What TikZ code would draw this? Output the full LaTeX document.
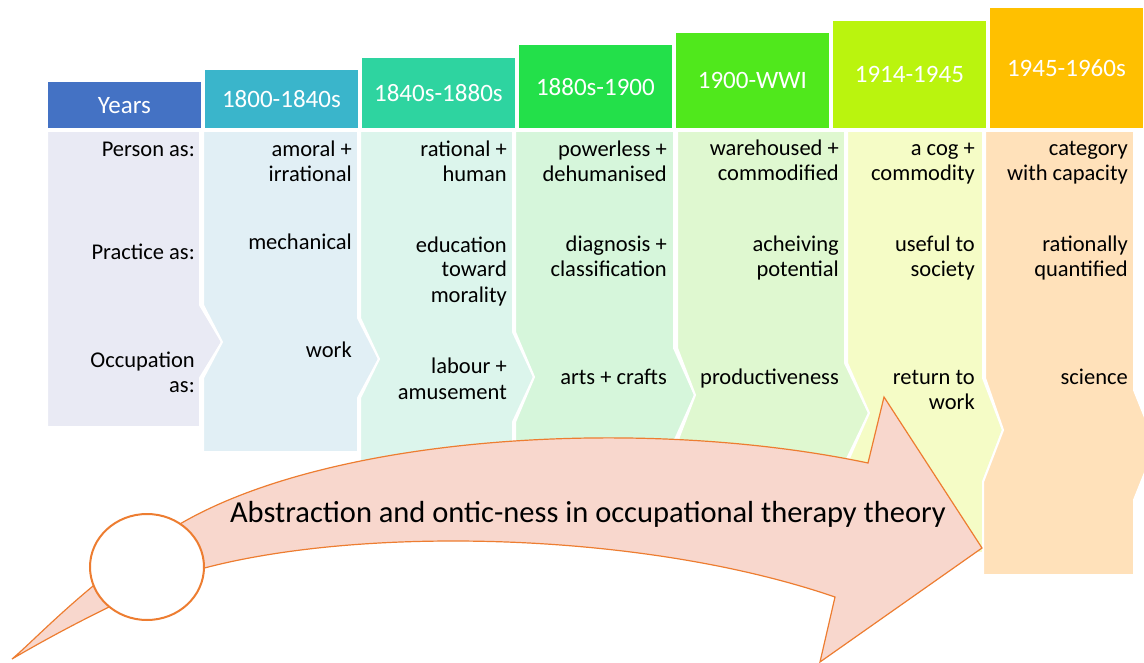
\documentclass[tikz,border=0pt]{standalone}
\usepackage{fontspec}
\setmainfont{Carlito}
\usetikzlibrary{positioning,shapes.geometric}

\definecolor{hdr0}{HTML}{4472C4}
\definecolor{hdr1}{HTML}{3AB5CB}
\definecolor{hdr2}{HTML}{2ED4A0}
\definecolor{hdr3}{HTML}{23E04A}
\definecolor{hdr4}{HTML}{50E81C}
\definecolor{hdr5}{HTML}{BAF40E}
\definecolor{hdr6}{HTML}{FFC000}
\definecolor{body0}{HTML}{E9EAF4}
\definecolor{body1}{HTML}{E1EFF5}
\definecolor{body2}{HTML}{DCF5EC}
\definecolor{body3}{HTML}{D6F6DB}
\definecolor{body4}{HTML}{DFF8D0}
\definecolor{body5}{HTML}{F5FCC6}
\definecolor{body6}{HTML}{FFE1BA}
\definecolor{arrowfill}{HTML}{F8D7CD}
\definecolor{arrowline}{HTML}{ED7D31}

\begin{document}
\begin{tikzpicture}[x=1pt, y=-1pt,
    hdr/.style={anchor=south west, minimum width=154pt, inner sep=0pt,
      draw=white, line width=0.8pt, text=white, font=\fontsize{25}{28}\selectfont},
    panel/.style={draw=white, line width=2pt},
    cell/.style={anchor=base east, align=right, inner sep=0pt,
      font=\fontsize{22.5}{25}\selectfont}]
  \useasboundingbox (0,0) rectangle (1144,663);

  % chevron columns
  \fill[panel, fill=body0] (47,131) -- (200,131) -- (200,305) -- (222,342) -- (200,378) -- (200,427) -- (47,427) -- cycle;
  \fill[panel, fill=body1] (203,131) -- (358,131) -- (358,318) -- (379,359) -- (358,398) -- (358,452) -- (203,452) -- (203,378) -- (222,342) -- (203,305) -- cycle;
  \fill[panel, fill=body2] (360,131) -- (513,131) -- (513,332) -- (534,377) -- (513,422) -- (513,476) -- (360,476) -- (360,398) -- (379,359) -- (360,318) -- cycle;
  \fill[panel, fill=body3] (515,131) -- (674,131) -- (674,348) -- (695,395) -- (674,442) -- (674,500) -- (515,500) -- (515,422) -- (534,377) -- (515,332) -- cycle;
  \fill[panel, fill=body4] (677,131) -- (845,131) -- (845,363) -- (869,413) -- (845,463) -- (845,525) -- (677,525) -- (677,442) -- (695,395) -- (677,348) -- cycle;
  \fill[panel, fill=body5] (847,131) -- (983,131) -- (983,378) -- (1003,430) -- (983,482) -- (983,553) -- (847,553) -- (847,463) -- (869,413) -- (847,363) -- cycle;
  \fill[panel, fill=body6] (985,131) -- (1134,131) -- (1134,390) -- (1156,445) -- (1134,500) -- (1134,575) -- (983,575) -- (983,482) -- (1003,430) -- (985,378) -- cycle;

  % period headers
  \foreach \x/\h/\t [count=\i from 0] in {47/47/Years, 204/59/1800-1840s,
      361/71/1840s-1880s, 518/84/1880s-1900, 675/96/1900-WWI,
      832/108/1914-1945, 989/121/1945-1960s}
    \node[hdr, fill=hdr\i, minimum height=\h pt] (hdr\i) at (\x,129) {\t};

  % row entries (y = baseline of last line)
  \foreach \x/\y/\t [count=\i] in {
      195/157/Person as:, 195/260/Practice as:, 195/392/Occupation\\as:,
      352/182/amoral +\\irrational, 352/250/mechanical, 352/357/work,
      507/182/rational +\\human, 507/302/education\\toward\\morality, 507/399/labour +\\amusement,
      667/182/powerless +\\dehumanised, 667/277/diagnosis +\\classification, 667/384/arts + crafts,
      839/181/warehoused +\\commodified, 839/277/acheiving\\potential, 839/384/productiveness,
      975/181/a cog +\\commodity, 975/277/useful to\\society, 975/409/return to\\work,
      1128/181/category\\with capacity, 1128/277/rationally\\quantified, 1128/384/science}
    \node[cell] (cell\i) at (\x,\y) {\t};

  % sweeping arrow
  \filldraw[fill=arrowfill, draw=arrowline, line width=1.2pt, line join=miter]
    (12,659) .. controls (35,640) and (90,580) .. (170,530)
    .. controls (320,435) and (640,415) .. (868,463)
    -- (884,397) -- (982,548) -- (820,662) -- (835,597)
    .. controls (640,530) and (350,525) .. (190,572)
    .. controls (140,590) and (70,625) .. (12,659) -- cycle;
  \node[draw=arrowline, fill=white, line width=2pt, ellipse, minimum width=114pt,
    minimum height=106pt, inner sep=0pt] (start) at (147,567) {};
  \node[anchor=base, inner sep=0pt, font=\fontsize{30.5}{34}\selectfont] (theme)
    at (588,522) {Abstraction and ontic-ness in occupational therapy theory};
\end{tikzpicture}
\end{document}
